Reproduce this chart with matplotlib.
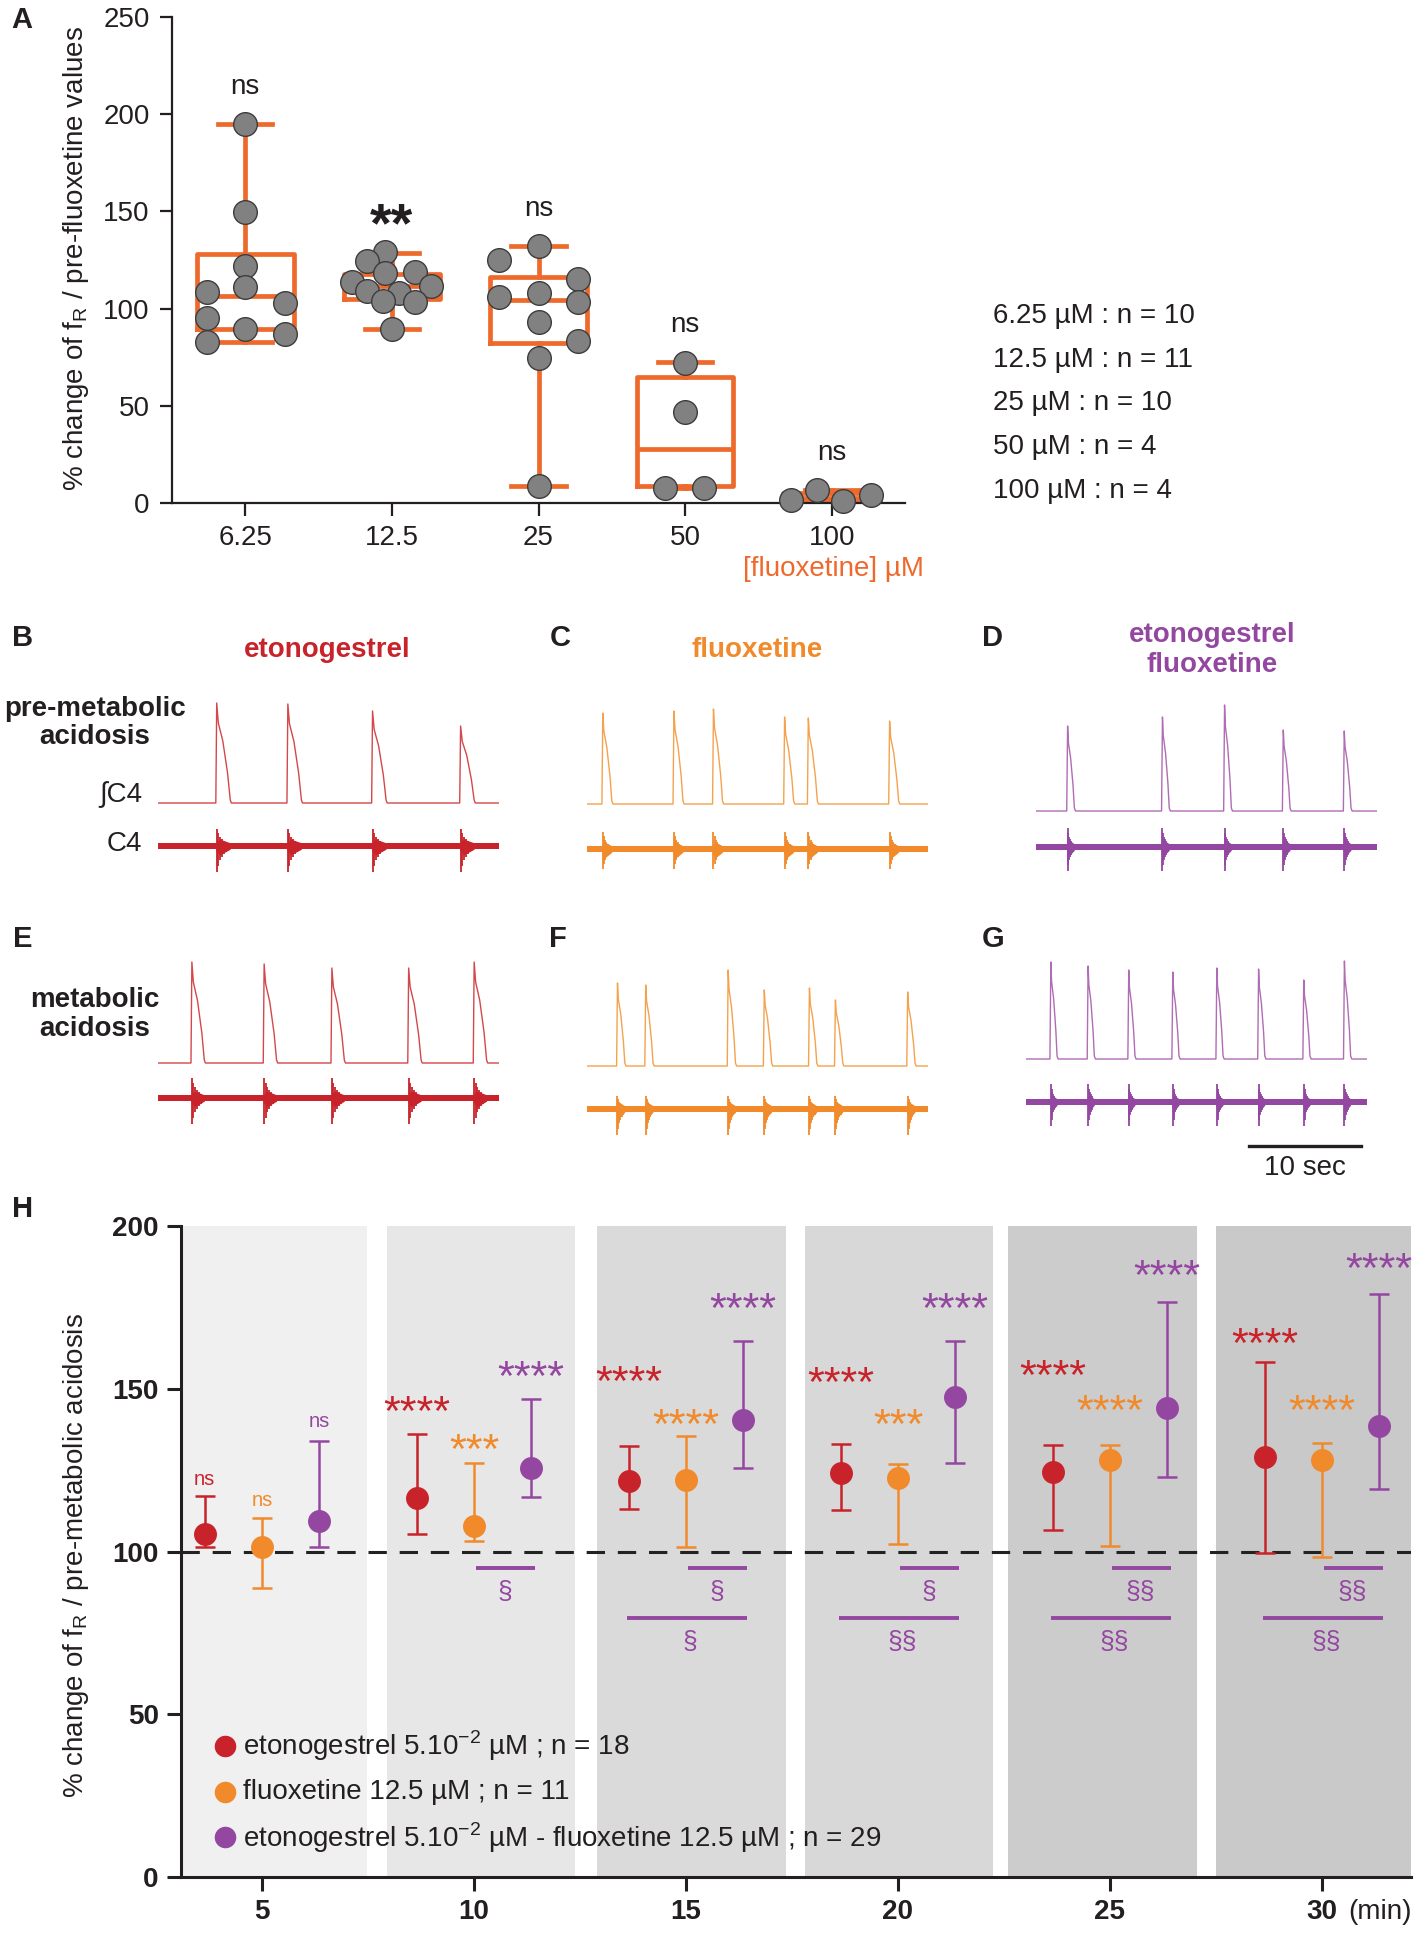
import matplotlib

matplotlib.use("Agg")
import matplotlib.pyplot as plt
import numpy as np

plt.rcParams["font.family"] = ["Liberation Sans", "DejaVu Sans"]
plt.rcParams["mathtext.fontset"] = "custom"
plt.rcParams["mathtext.rm"] = "Liberation Sans"

W, H = 1417, 1934
INK = "#231F20"
ORANGE_A = "#EE6A2C"
RED = "#C8232B"
ORANGE = "#F08A2B"
PURPLE = "#9447A0"

# ---------------- panel A : dose response ----------------
doses = ["6.25", "12.5", "25", "50", "100"]
n_per_dose = [10, 11, 10, 4, 4]
pts_625 = [195.1, 149.9, 121.7, 111.3, 108.7, 103.0, 95.0, 89.3, 87.0, 82.9]
pts_125 = [128.9, 124.4, 118.7, 118.1, 113.6, 111.7, 108.9, 107.8, 104.0, 103.6, 89.7]
pts_25 = [132.2, 124.8, 115.2, 108.1, 105.8, 103.4, 93.3, 83.3, 74.8, 8.8]
pts_50 = [72.1, 47.0, 7.8, 7.8]
pts_100 = [6.9, 3.9, 1.6, 1.0]
box_q1 = [89.7, 104.8, 82.3, 8.8, 0.4]
box_med = [106.4, 111.7, 104.4, 27.8, 2.5]
box_q3 = [127.9, 117.9, 116.2, 64.9, 5.2]
whisk_lo = [82.7, 89.7, 8.8, 7.8, 0.4]
whisk_hi = [195.0, 128.5, 132.2, 72.5, 6.9]
sig_A = ["ns", "**", "ns", "ns", "ns"]

# ---------------- panels B-G : phrenic bursts (time in s, amplitude a.u.) ----------------
burst_t_B = [5.2, 11.5, 19.0, 26.8]
burst_a_B = [1.00, 0.99, 0.92, 0.77]
burst_t_C = [1.4, 7.7, 11.2, 17.5, 19.6, 26.8]
burst_a_C = [0.91, 0.93, 0.95, 0.87, 0.86, 0.83]
burst_t_D = [2.8, 11.2, 16.7, 21.9, 27.3]
burst_a_D = [0.85, 0.94, 1.06, 0.81, 0.80]
burst_t_E = [3.0, 9.4, 15.4, 22.2, 28.0]
burst_a_E = [1.01, 0.99, 0.95, 0.95, 1.01]
burst_t_F = [2.7, 5.2, 12.5, 15.7, 19.7, 22.0, 28.4]
burst_a_F = [0.83, 0.81, 0.96, 0.76, 0.78, 0.66, 0.74]
burst_t_G = [2.2, 5.5, 9.1, 13.0, 16.9, 20.6, 24.6, 28.2]
burst_a_G = [0.97, 0.93, 0.89, 0.87, 0.91, 0.90, 0.79, 0.98]

# ---------------- panel H : time course ----------------
minutes = [5, 10, 15, 20, 25, 30]
eto_mean = [105.5, 116.5, 121.8, 124.1, 124.4, 129.1]
eto_hi = [116.9, 136.2, 132.4, 132.9, 132.6, 158.3]
eto_lo = [101.3, 105.5, 113.2, 112.7, 106.5, 99.6]
flu_mean = [101.4, 107.9, 121.9, 122.7, 128.1, 128.1]
flu_hi = [110.3, 127.1, 135.5, 127.0, 132.6, 133.2]
flu_lo = [88.7, 103.2, 101.5, 102.2, 101.8, 98.4]
mix_mean = [109.5, 125.6, 140.5, 147.4, 144.2, 138.6]
mix_hi = [133.9, 146.7, 164.7, 164.7, 176.5, 179.0]
mix_lo = [101.5, 116.8, 125.8, 127.3, 122.9, 119.2]
eto_sig = ["ns", "****", "****", "****", "****", "****"]
flu_sig = ["ns", "***", "****", "***", "****", "****"]
mix_sig = ["ns", "****", "****", "****", "****", "****"]
mix_vs_flu = ["", "§", "§", "§", "§§", "§§"]
mix_vs_eto = ["", "", "§", "§§", "§§", "§§"]
legend_labels = [
    r"etonogestrel 5.10$^{\mathregular{-2}}$ µM ; n = 18",
    "fluoxetine 12.5 µM ; n = 11",
    r"etonogestrel 5.10$^{\mathregular{-2}}$ µM - fluoxetine 12.5 µM ; n = 29",
]

fig = plt.figure(figsize=(W / 100, H / 100), dpi=100)


def add_ax(left, top, right, bottom):
    return fig.add_axes([left / W, 1 - bottom / H, (right - left) / W, (bottom - top) / H])


def ftext(x, y, s, **kw):
    kw.setdefault("ha", "center")
    kw.setdefault("va", "center")
    kw.setdefault("color", INK)
    return fig.text(x / W, 1 - y / H, s, **kw)


# ---------------- A ----------------
axA = add_ax(172, 17, 905, 503)
pos = np.arange(len(doses))
stats = [
    dict(med=m, q1=a, q3=b, whislo=lo, whishi=hi)
    for m, a, b, lo, hi in zip(box_med, box_q1, box_q3, whisk_lo, whisk_hi)
]
bprops = dict(color=ORANGE_A, linewidth=3.4)
axA.bxp(stats, positions=pos, widths=0.66, capwidths=0.37, showfliers=False,
        boxprops=bprops, whiskerprops=bprops, capprops=bprops,
        medianprops=bprops, manage_ticks=False)
jitter = [
    [0, 0, 0, 0, -0.26, 0.27, -0.26, 0, 0.27, -0.26],
    [-0.05, -0.17, 0.16, -0.05, -0.27, 0.27, -0.17, 0.05, -0.06, 0.16, 0],
    [0, -0.27, 0.27, 0, -0.27, 0.27, 0, 0.27, 0, 0],
    [0, 0, -0.14, 0.13],
    [-0.1, 0.27, -0.28, 0.08],
]
for i, (vals, jit) in enumerate(zip([pts_625, pts_125, pts_25, pts_50, pts_100], jitter)):
    axA.scatter(np.array(jit) + i, vals, s=290, color="#818181", edgecolor="#3C3C3C",
                linewidth=1.0, zorder=5, clip_on=False)
for i, s in enumerate(sig_A):
    if s == "**":
        axA.text(i, whisk_hi[i] + 6, s, ha="center", va="baseline", fontsize=40,
                 fontweight="bold", color=INK)
    else:
        axA.text(i, whisk_hi[i] + 19, s, ha="center", va="center", fontsize=20, color=INK)
axA.set_xlim(-0.5, 4.5)
axA.set_ylim(0, 250)
axA.set_yticks(range(0, 251, 50))
axA.set_xticks(pos)
axA.set_xticklabels(doses)
for side in ["top", "right"]:
    axA.spines[side].set_visible(False)
for side in ["left", "bottom"]:
    axA.spines[side].set_linewidth(1.6)
    axA.spines[side].set_color(INK)
axA.tick_params(length=9, width=1.6, labelsize=20, pad=7, colors=INK)
ftext(76, 259, r"% change of f$_{\mathregular{R}}$ / pre-fluoxetine values",
      rotation=90, fontsize=20)
ftext(833, 569, "[fluoxetine] µM", fontsize=20, color=ORANGE_A)
for k, (d, n) in enumerate(zip(doses, n_per_dose)):
    ftext(993, 316 + 43.7 * k, f"{d} µM : n = {n}", ha="left", fontsize=20)
ftext(22, 20, "A", fontsize=21, fontweight="bold")

# ---------------- B-G traces ----------------
TOTAL = 30.2


def draw_trace(left, baseline, times, amps, dur, c_int, c_raw, raw_off, up, down):
    ax = add_ax(left, baseline - 120, left + 341, baseline + 80)
    ax.set_xlim(0, TOTAL)
    ax.set_ylim(-0.8, 1.2)
    ax.axis("off")
    xs, ys = [0.0], [0.0]
    for t, a in zip(times, amps):
        xs += [t - 0.08, t, t + 0.12 * dur, t + 0.45 * dur, t + 0.8 * dur, t + dur, t + dur + 0.1]
        ys += [0.0, a, 0.8 * a, 0.62 * a, 0.3 * a, 0.03, 0.0]
    xs.append(TOTAL)
    ys.append(0.0)
    ax.plot(xs, ys, color=c_int, lw=1.0)
    band = 0.032
    ax.fill_between([0, TOTAL], -raw_off - band, -raw_off + band, color=c_raw, lw=0)
    # spindle of spikes for each burst
    frac = np.array([0.0, 0.12, 0.25, 0.4, 0.55, 0.7, 0.85])
    gain = np.array([1.0, 0.75, 0.55, 0.42, 0.32, 0.22, 0.14])
    for t in times:
        sx = t + frac * dur
        ax.vlines(sx, -raw_off - down * gain, -raw_off + up * gain, color=c_raw, lw=1.3)
        ax.fill_between([t - 0.1, t + 0.2 * dur, t + dur], -raw_off - np.array([band, 0.09, band]),
                        -raw_off + np.array([band, 0.07, band]), color=c_raw, lw=0)
    return ax


draw_trace(158, 803, burst_t_B, burst_a_B, 1.2, "#D4474A", RED, 0.43, 0.17, 0.26)
draw_trace(587, 804, burst_t_C, burst_a_C, 0.8, "#F4A24E", ORANGE, 0.45, 0.17, 0.2)
draw_trace(1036, 811, burst_t_D, burst_a_D, 0.6, "#B06CB4", PURPLE, 0.36, 0.19, 0.24)
draw_trace(158, 1063, burst_t_E, burst_a_E, 1.1, "#D4474A", RED, 0.35, 0.2, 0.26)
draw_trace(587, 1066, burst_t_F, burst_a_F, 0.65, "#F4A24E", ORANGE, 0.43, 0.13, 0.26)
draw_trace(1026, 1059, burst_t_G, burst_a_G, 0.55, "#B06CB4", PURPLE, 0.43, 0.18, 0.24)

for lab, x, y in [("B", 23, 638), ("C", 560, 638), ("D", 993, 638),
                  ("E", 23, 939), ("F", 558, 939), ("G", 993, 939), ("H", 23, 1209)]:
    ftext(x, y, lab, fontsize=21, fontweight="bold")
ftext(327, 650, "etonogestrel", fontsize=20, fontweight="bold", color=RED)
ftext(757, 650, "fluoxetine", fontsize=20, fontweight="bold", color=ORANGE)
ftext(1212, 650, "etonogestrel\nfluoxetine", fontsize=20, fontweight="bold", color=PURPLE,
      linespacing=1.15)
ftext(95, 723, "pre-metabolic\nacidosis", fontsize=20, fontweight="bold", linespacing=1.15)
ftext(95, 1014, "metabolic\nacidosis", fontsize=20, fontweight="bold", linespacing=1.15)
ftext(142, 795, "∫C4", ha="right", fontsize=20)
ftext(142, 844, "C4", ha="right", fontsize=20)
fig.add_artist(plt.Line2D([1249 / W, 1361 / W], [1 - 1146 / H] * 2, color=INK, lw=2.4))
ftext(1305, 1168, "10 sec", fontsize=20)

# ---------------- H ----------------
axH = add_ax(181, 1226, 1411, 1877)
axH.set_xlim(3.09, 32.1)
axH.set_ylim(0, 200)
band_edges = [(3.09, 7.48), (7.95, 12.38), (12.9, 17.36), (17.8, 22.25), (22.6, 27.05), (27.5, 32.1)]
band_colors = ["#F0F0F0", "#E7E7E7", "#DADADA", "#D8D8D8", "#CDCCCD", "#C9C9C9"]
for (lo, hi), c in zip(band_edges, band_colors):
    axH.axvspan(lo, hi, ymin=0, ymax=1, color=c, lw=0, zorder=0)
axH.axhline(100, color="#222222", lw=2.2, dashes=(6, 4.2), zorder=1)

m = np.array(minutes, dtype=float)
groups = [
    (m - 1.35, eto_mean, eto_lo, eto_hi, RED),
    (m, flu_mean, flu_lo, flu_hi, ORANGE),
    (m + 1.35, mix_mean, mix_lo, mix_hi, PURPLE),
]
for x, mean, lo, hi, c in groups:
    mean = np.array(mean)
    yerr = [mean - np.array(lo), np.array(hi) - mean]
    axH.errorbar(x, mean, yerr=yerr, fmt="o", ms=15.5, color=c, ecolor=c, elinewidth=1.8,
                 capsize=7, capthick=1.8, zorder=3)

eto_lab_y = [122, 146, 155, 154.8, 156.9, 166.9]
flu_lab_y = [115.7, 134.3, 142, 142, 146.2, 146.2]
mix_lab_y = [139.8, 156.5, 177.5, 177.5, 187.6, 189.8]
for (x, _, _, _, c), sigs, ys in zip(groups, [eto_sig, flu_sig, mix_sig],
                                     [eto_lab_y, flu_lab_y, mix_lab_y]):
    for xi, s, y in zip(x, sigs, ys):
        if s == "ns":
            axH.text(xi, y, s, ha="center", va="center", fontsize=14.5, color=c)
        else:
            axH.text(xi, y - 7, s, ha="center", va="baseline", fontsize=31, color=c)

for i, t in enumerate(minutes):
    if mix_vs_flu[i]:
        axH.plot([t + 0.05, t + 1.45], [94.8, 94.8], color=PURPLE, lw=2.8, solid_capstyle="butt")
        axH.text(t + 0.72, 87.6, mix_vs_flu[i], ha="center", va="center", fontsize=19, color=PURPLE)
    if mix_vs_eto[i]:
        axH.plot([t - 1.4, t + 1.45], [79.5, 79.5], color=PURPLE, lw=2.8, solid_capstyle="butt")
        axH.text(t + 0.1, 72.2, mix_vs_eto[i], ha="center", va="center", fontsize=19, color=PURPLE)

for k, (lab, c) in enumerate(zip(legend_labels, [RED, ORANGE, PURPLE])):
    yy = 0.201 - 0.07 * k
    axH.plot([0.0358], [yy], "o", ms=14.5, color=c, transform=axH.transAxes)
    axH.text(0.0504, yy, lab, transform=axH.transAxes, ha="left", va="center",
             fontsize=20, color=INK)

axH.set_xticks(minutes)
axH.set_yticks(range(0, 201, 50))
for side in ["top", "right"]:
    axH.spines[side].set_visible(False)
for side in ["left", "bottom"]:
    axH.spines[side].set_linewidth(2.2)
    axH.spines[side].set_color(INK)
axH.tick_params(length=10, width=2.2, labelsize=20, pad=6, colors=INK)
for lab in axH.get_xticklabels() + axH.get_yticklabels():
    lab.set_fontweight("bold")
ftext(1380, 1912, "(min)", fontsize=20)
ftext(76, 1555, r"% change of f$_{\mathregular{R}}$ / pre-metabolic acidosis",
      rotation=90, fontsize=20)

fig.savefig("out.png", dpi=100)
